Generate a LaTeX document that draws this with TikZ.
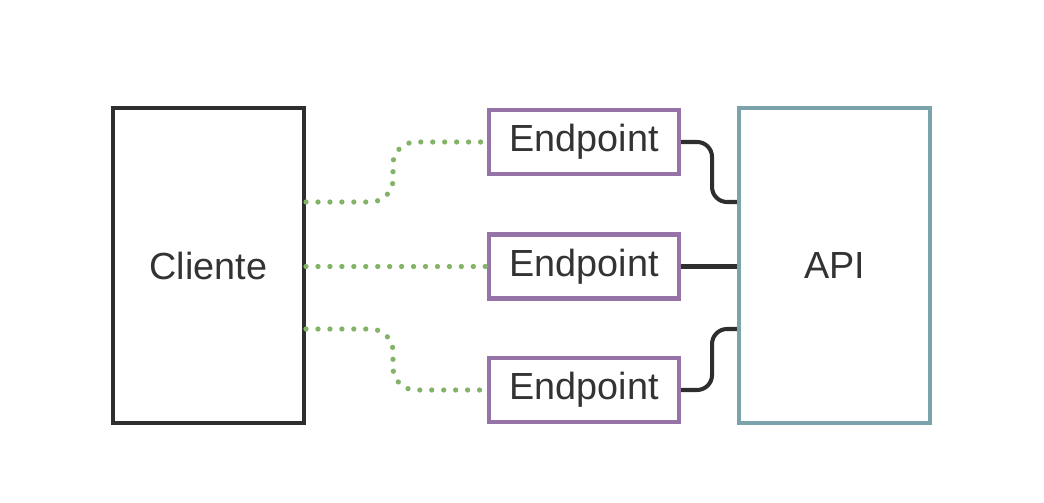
\documentclass[tikz,border=0pt]{standalone}
\usepackage{fontspec}
\setmainfont{Liberation Sans}
\usetikzlibrary{positioning, calc}

\begin{document}
\begin{tikzpicture}[font=\fontsize{21.5}{25}\selectfont,
    box/.style={draw, line width=2.3pt, minimum width=3.82cm, minimum height=6.3cm, text=txtgray},
    epbox/.style={draw=eppurple, line width=2.3pt, minimum width=3.8cm, minimum height=1.28cm, text=txtgray, inner sep=0pt},
    dotlink/.style={draw=dotgreen, line width=3pt, line cap=round, dash pattern=on 0pt off 6.8pt, rounded corners=0.45cm},
    solidlink/.style={draw=linkdark, line width=2.3pt, rounded corners=0.3cm}]
  % Define colors
  \definecolor{txtgray}{HTML}{333333}
  \definecolor{eppurple}{HTML}{9673A6}
  \definecolor{apiteal}{HTML}{7BA3AB}
  \definecolor{dotgreen}{HTML}{82B366}
  \definecolor{linkdark}{HTML}{2E2E2E}

  \useasboundingbox (0,0) rectangle (20.88,10.04);

  % Boxes
  \node[box, draw=linkdark] (cliente) at (4.17,4.73) {Cliente};
  \node[box, draw=apiteal] (api) at (16.69,4.73) {API};

  % Endpoints
  \node[epbox] (ep1) at (11.68,7.2) {Endpoint};
  \node[epbox] (ep2) at (11.68,4.71) {Endpoint};
  \node[epbox] (ep3) at (11.68,2.24) {Endpoint};

  % Attach points
  \coordinate (cl1) at ($(cliente.east)+(0,1.27)$);
  \coordinate (cl3) at ($(cliente.east)+(0,-1.27)$);
  \coordinate (ap1) at ($(api.west)+(0,1.27)$);
  \coordinate (ap3) at ($(api.west)+(0,-1.27)$);
  \coordinate (lm1) at ([xshift=-1.88cm]ep1.west);
  \coordinate (lm3) at ([xshift=-1.88cm]ep3.west);
  \coordinate (rm1) at ([xshift=0.62cm]ep1.east);
  \coordinate (rm3) at ([xshift=0.62cm]ep3.east);

  % Client side links
  \draw[dotlink] (cl1) -- (cl1 -| lm1) -- (lm1) -- (ep1.west);
  \draw[dotlink] (cliente.east |- ep2.west) -- (ep2.west);
  \draw[dotlink] (cl3) -- (cl3 -| lm3) -- (lm3) -- (ep3.west);

  % API side links
  \draw[solidlink] (ep1.east) -- (rm1) -- (rm1 |- ap1) -- (ap1);
  \draw[solidlink] (ep2.east) -- (api.west |- ep2.east);
  \draw[solidlink] (ep3.east) -- (rm3) -- (rm3 |- ap3) -- (ap3);
\end{tikzpicture}
\end{document}
